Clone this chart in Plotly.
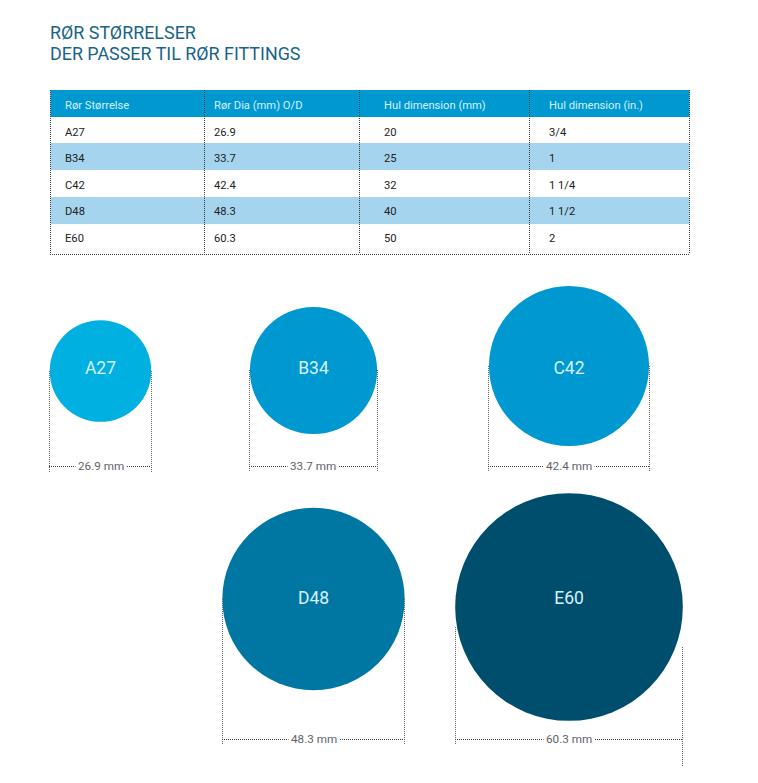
import math

import plotly.graph_objects as go

# table contents
headers = ['Rør Størrelse', 'Rør Dia (mm) O/D', 'Hul dimension (mm)', 'Hul dimension (in.)']
sizes = ['A27', 'B34', 'C42', 'D48', 'E60']
diameters = [26.9, 33.7, 42.4, 48.3, 60.3]
hole_mm = ['20', '25', '32', '40', '50']
hole_in = ['3/4', '1', '1 1/4', '1 1/2', '2']
title_lines = ['RØR STØRRELSER', 'DER PASSER TIL RØR FITTINGS']

# layout of the page, in pixels
PX_PER_MM = 3.775
circle_x = [100.5, 313.5, 569, 313.5, 569]
circle_y = [371, 370.5, 366, 599, 607]
circle_label_y = [370, 370, 370, 600, 600]
circle_colors = ['#00B0E0', '#0098D1', '#0098D1', '#0076A3', '#004E6E']
dim_y = [466.5, 466.5, 466.5, 739.5, 739.5]
label_x = [100.5, 313, 569, 313.5, 569]
col_edges = [50.5, 204.5, 359.5, 529.5, 689.5]
col_text = [65, 214, 384, 549]
row_edges = [117, 143, 170, 197, 224, 254]
row_y = [133.5, 159.5, 186.5, 212.5, 239]

FONT = 'Roboto'
DOT = '#3a3a3a'
DIM = '#666666'
FINE = '1px,1px'

fig = go.Figure()

# header + striped rows
fig.add_shape(type='rect', x0=col_edges[0], x1=col_edges[-1], y0=90, y1=117,
              fillcolor='#0098D1', line_width=0, layer='below')
for i in [1, 3]:
    fig.add_shape(type='rect', x0=col_edges[0], x1=col_edges[-1],
                  y0=row_edges[i], y1=row_edges[i + 1],
                  fillcolor='#A5D5EE', line_width=0, layer='below')

# dotted table rules
for x in col_edges:
    fig.add_shape(type='line', x0=x, x1=x, y0=90, y1=254,
                  line=dict(color=DOT, width=1, dash=FINE))
fig.add_shape(type='line', x0=50, x1=690, y0=254.5, y1=254.5,
              line=dict(color=DOT, width=1, dash=FINE))

# table text
fig.add_trace(go.Scatter(
    x=col_text, y=[106.5] * 4, text=headers, mode='text',
    textposition='middle right',
    textfont=dict(family=FONT, size=11.2, color='#D6F1FB')
))
columns = [sizes, [str(d) for d in diameters], hole_mm, hole_in]
for x, col in zip(col_text, columns):
    fig.add_trace(go.Scatter(
        x=[x] * len(col), y=row_y, text=col, mode='text',
        textposition='middle right',
        textfont=dict(family=FONT, size=11.2, color='#222222')
    ))

# title
fig.add_trace(go.Scatter(
    x=[50, 50], y=[35, 55.5], text=title_lines, mode='text',
    textposition='middle right',
    textfont=dict(family=FONT, size=17.9, color='#1A6485')
))

# dimension lines: the 1px dash only stays dotted when it starts on a whole pixel
for i, d in enumerate(diameters):
    r = d * PX_PER_MM / 2
    left = math.floor(circle_x[i] - r)
    right = math.floor(circle_x[i] + r)
    is_big = sizes[i] == 'E60'
    top_left = math.floor(circle_y[i]) + (20 if is_big else 0)
    top_right = math.floor(circle_y[i]) + (40 if is_big else 0)
    bottom = math.floor(dim_y[i]) + 6
    fig.add_shape(type='line', x0=left + 0.5, x1=left + 0.5, y0=top_left, y1=bottom,
                  line=dict(color=DIM, width=1, dash=FINE))
    fig.add_shape(type='line', x0=right + 0.5, x1=right + 0.5, y0=top_right,
                  y1=bottom + (22 if is_big else 0),
                  line=dict(color=DIM, width=1, dash=FINE))
    fig.add_shape(type='line', x0=left, x1=right, y0=dim_y[i], y1=dim_y[i],
                  line=dict(color=DOT, width=1, dash=FINE))
    fig.add_annotation(x=label_x[i], y=dim_y[i] - 1, text=f'{d} mm', showarrow=False,
                       bgcolor='white', borderpad=2,
                       font=dict(family=FONT, size=11.7, color='#5f6368'))

# the circles, sized from the diameters
fig.add_trace(go.Scatter(
    x=circle_x, y=circle_y, mode='markers',
    marker=dict(size=[d * PX_PER_MM for d in diameters], sizemode='diameter',
                color=circle_colors, line_width=0, opacity=1)
))
fig.add_trace(go.Scatter(
    x=circle_x, y=circle_label_y, text=sizes, mode='text',
    textposition='middle center',
    textfont=dict(family=FONT, size=17.5, color='#D6F1FB')
))

fig.update_xaxes(range=[0, 758], visible=False, fixedrange=True)
fig.update_yaxes(range=[783, 0], visible=False, fixedrange=True)
fig.update_layout(
    width=758, height=783, margin=dict(l=0, r=0, t=0, b=0),
    paper_bgcolor='white', plot_bgcolor='white', showlegend=False
)

# the page default margin would push the chart 8px in
fig.write_html("out.html", config={'displayModeBar': False},
               post_script="document.body.style.margin = '0';")
